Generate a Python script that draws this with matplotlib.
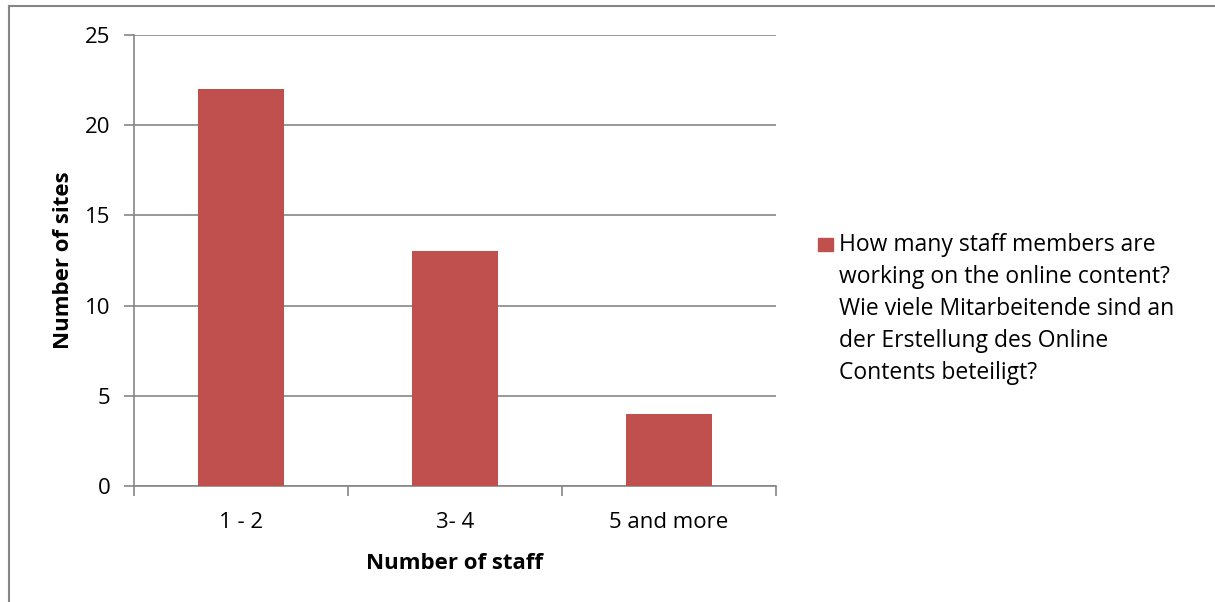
import matplotlib
matplotlib.use("Agg")
import matplotlib.pyplot as plt
from matplotlib.patches import Rectangle
from matplotlib.lines import Line2D

categories = ["1 - 2", "3- 4", "5 and more"]
sites = [22, 13, 4]
y_ticks = [0, 5, 10, 15, 20, 25]
series_label = ("How many staff members are\n"
                "working on the online content?\n"
                "Wie viele Mitarbeitende sind an\n"
                "der Erstellung des Online\n"
                "Contents beteiligt?")

BAR = "#C0504D"
GRID = "#868686"
FONT = "Open Sans"
FS_TICK = 16
FS_LABEL = 16
FS_LEGEND = 16.5

plt.rcParams["font.family"] = [FONT, "DejaVu Sans"]

fig = plt.figure(figsize=(12.15, 6.02), dpi=100)
ax = fig.add_axes([134 / 1215, 1 - 486 / 602, 642 / 1215, 451 / 602])

x = range(len(categories))
ax.bar(x, sites, width=0.4, color=BAR, zorder=3)
ax.set_xlim(-0.5, len(categories) - 0.5)
ax.set_ylim(0, 25)
ax.set_yticks(y_ticks)
ax.yaxis.grid(True, color=GRID, linewidth=1.2, zorder=0)
ax.set_axisbelow(True)

ax.set_xticks(list(x))
ax.set_xticklabels(categories, fontsize=FS_TICK)
ax.tick_params(axis="x", length=0, pad=19)
ax.set_xticks([i - 0.5 for i in range(len(categories) + 1)], minor=True)
ax.tick_params(axis="x", which="minor", length=7, width=1.2, color=GRID, direction="out")
ax.tick_params(axis="y", length=7, width=1.2, color=GRID, direction="out",
               labelsize=FS_TICK, pad=10)

for side in ("top", "right"):
    ax.spines[side].set_visible(False)
for side in ("left", "bottom"):
    ax.spines[side].set_color(GRID)
    ax.spines[side].set_linewidth(1.2)

ax.set_xlabel("Number of staff", fontsize=FS_LABEL, fontweight="bold", labelpad=14)
ax.set_ylabel("Number of sites", fontsize=FS_LABEL, fontweight="bold", labelpad=8)

# legend drawn by hand so the wrapped series name sits beside its swatch
fig.patches.append(Rectangle((818 / 1215, 1 - 251 / 602), 15 / 1215, 13 / 602,
                             transform=fig.transFigure, color=BAR))
fig.text(839 / 1215, 1 - 233 / 602, series_label, fontsize=FS_LEGEND,
         va="top", ha="left", linespacing=1.44)

# outer chart frame (top and left edges)
fig.lines.append(Line2D([8.5 / 1215, 8.5 / 1215], [0, 1 - 5.5 / 602],
                        transform=fig.transFigure, color=GRID, linewidth=1.5))
fig.lines.append(Line2D([8.5 / 1215, 1], [1 - 5.5 / 602, 1 - 5.5 / 602],
                        transform=fig.transFigure, color=GRID, linewidth=1.5))

fig.savefig("out.png", dpi=100)
